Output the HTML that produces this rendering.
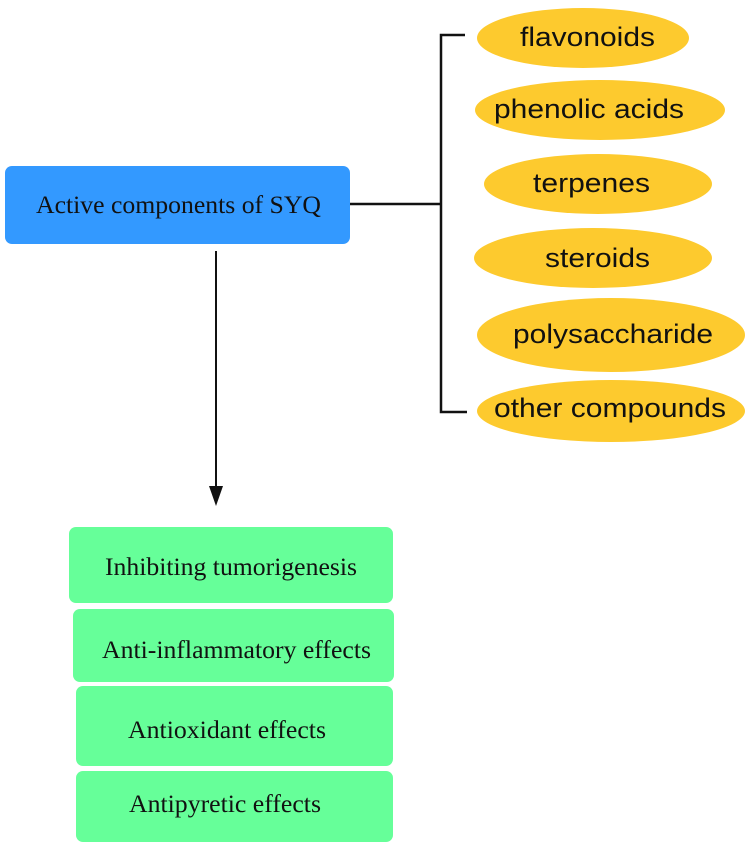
<!DOCTYPE html>
<html><head><style>
body{margin:0;background:#fff;width:750px;height:846px;overflow:hidden}
</style></head><body>
<svg width="750" height="846" xmlns="http://www.w3.org/2000/svg">
<rect x="5" y="166" width="345" height="78" rx="7" fill="#3399ff"/>
<text x="36" y="213" font-family="Liberation Serif, serif" font-size="25" fill="#111" textLength="285" lengthAdjust="spacingAndGlyphs">Active components of SYQ</text>
<g stroke="#111" stroke-width="2.5" fill="none">
<line x1="350" y1="204" x2="441" y2="204"/>
<polyline points="465,35 441,35 441,412 467,412"/>
</g>
<line x1="216" y1="251" x2="216" y2="488" stroke="#111" stroke-width="2"/>
<polygon points="209,486 223,486 216,506" fill="#111"/>
<g fill="#fdca2e">
<ellipse cx="583" cy="38" rx="106" ry="30"/>
<ellipse cx="600" cy="110" rx="125" ry="30"/>
<ellipse cx="598" cy="184" rx="114" ry="30"/>
<ellipse cx="593" cy="258" rx="119" ry="30"/>
<ellipse cx="611" cy="335" rx="134" ry="37"/>
<ellipse cx="611" cy="411" rx="134" ry="31"/>
</g>
<g font-family="Liberation Sans, sans-serif" font-size="27" fill="#111" lengthAdjust="spacingAndGlyphs">
<text x="520" y="46" textLength="135" lengthAdjust="spacingAndGlyphs">flavonoids</text>
<text x="494" y="118" textLength="190" lengthAdjust="spacingAndGlyphs">phenolic acids</text>
<text x="533" y="192" textLength="117" lengthAdjust="spacingAndGlyphs">terpenes</text>
<text x="545" y="267" textLength="105" lengthAdjust="spacingAndGlyphs">steroids</text>
<text x="513" y="343" textLength="200" lengthAdjust="spacingAndGlyphs">polysaccharide</text>
<text x="494" y="417" textLength="232" lengthAdjust="spacingAndGlyphs">other compounds</text>
</g>
<g fill="#66ff99">
<rect x="69" y="527" width="324" height="76" rx="7"/>
<rect x="73" y="609" width="321" height="73" rx="7"/>
<rect x="76" y="686" width="317" height="80" rx="7"/>
<rect x="76" y="771" width="317" height="71" rx="7"/>
</g>
<g font-family="Liberation Serif, serif" font-size="25" fill="#111">
<text x="105" y="575" textLength="252" lengthAdjust="spacingAndGlyphs">Inhibiting tumorigenesis</text>
<text x="102" y="658" textLength="269" lengthAdjust="spacingAndGlyphs">Anti-inflammatory effects</text>
<text x="128" y="738" textLength="198" lengthAdjust="spacingAndGlyphs">Antioxidant effects</text>
<text x="129" y="812" textLength="192" lengthAdjust="spacingAndGlyphs">Antipyretic effects</text>
</g>
</svg>
</body></html>
